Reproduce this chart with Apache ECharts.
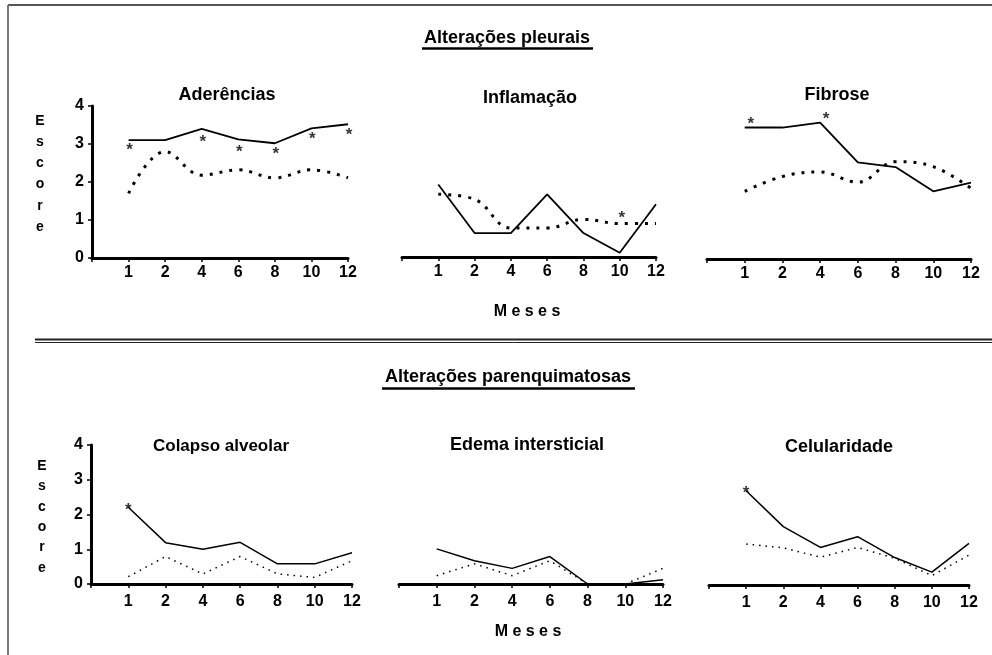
<!DOCTYPE html>
<html>
<head>
<meta charset="utf-8">
<script src="https://cdn.jsdelivr.net/npm/echarts@6.0.0/dist/echarts.min.js"></script>
<style>
  html, body { margin: 0; padding: 0; background: #fff; }
  #chart { width: 992px; height: 655px; }
</style>
</head>
<body>
<div id="chart"></div>
<script>
// meses (eixo x)
var months = ['1', '2', '4', '6', '8', '10', '12'];

// Alteracoes pleurais
var aderSolid = [3.10, 3.10, 3.40, 3.12, 3.02, 3.41, 3.52];
var aderDotted = [1.70, 2.80, 2.18, 2.32, 2.11, 2.32, 2.11];
var aderStars = [['1', 2.97], ['4', 3.18], ['6', 2.90], ['8', 2.87], ['10', 3.26], ['12', 3.37]];

var inflSolid = [1.91, 0.63, 0.63, 1.65, 0.63, 0.11, 1.39];
var inflDotted = [1.65, 1.52, 0.76, 0.76, 0.99, 0.88, 0.88];
var inflStars = [['10', 1.14]];

var fibrSolid = [3.46, 3.46, 3.59, 2.54, 2.42, 1.78, 2.01];
var fibrDotted = [1.78, 2.17, 2.29, 2.02, 2.56, 2.43, 1.86];
var fibrStars = [['1', 3.68], ['4', 3.81]];

// Alteracoes parenquimatosas
var colSolid = [2.21, 1.19, 1.00, 1.20, 0.58, 0.58, 0.90];
var colDotted = [0.21, 0.79, 0.29, 0.79, 0.29, 0.19, 0.67];
var colStars = [['1', 2.27]];

var edemaSolid = [1.01, 0.67, 0.45, 0.79, 0, 0, 0.12];
var edemaDotted = [0.24, 0.58, 0.24, 0.67, 0, 0, 0.45];

var celSolid = [2.71, 1.68, 1.08, 1.39, 0.79, 0.37, 1.20];
var celDotted = [1.18, 1.07, 0.80, 1.08, 0.77, 0.27, 0.86];
var celStars = [['1', 2.78]];

var FONT = '"Liberation Sans", Arial, Helvetica, sans-serif';

var panels = [
    {grid: {left: 92, top: 106, width: 256, height: 152}, yShow: true, solid: aderSolid, dotted: aderDotted, stars: aderStars, top: true, starOff: [1, 5]},
    {grid: {left: 402, top: 105, width: 254, height: 152}, yShow: false, solid: inflSolid, dotted: inflDotted, stars: inflStars, top: true, starOff: [2, 5]},
    {grid: {left: 707, top: 107, width: 264, height: 152}, yShow: false, solid: fibrSolid, dotted: fibrDotted, stars: fibrStars, top: true, starOff: [6, 5]},
    {grid: {left: 91, top: 445, width: 261, height: 139}, yShow: true, solid: colSolid, dotted: colDotted, stars: colStars, top: false, starOff: [0, 5]},
    {grid: {left: 399, top: 445, width: 264, height: 139}, yShow: false, solid: edemaSolid, dotted: edemaDotted, stars: [], top: false, starOff: [0, 5]},
    {grid: {left: 709, top: 446, width: 260, height: 139}, yShow: false, solid: celSolid, dotted: celDotted, stars: celStars, top: false, starOff: [0, 5]}
];

function pairs(vals) {
    return months.map(function (m, i) { return [m, vals[i]]; });
}

var grids = [], xAxes = [], yAxes = [], series = [];
panels.forEach(function (p, k) {
    grids.push(p.grid);
    xAxes.push({
        type: 'category',
        gridIndex: k,
        boundaryGap: false,
        data: [''].concat(months),
        axisLine: {lineStyle: {color: '#000', width: 3}},
        axisTick: {show: true, length: 4, lineStyle: {color: '#000', width: 1.5}},
        axisLabel: {color: '#000', fontSize: 16, fontWeight: 'bold', fontFamily: FONT, margin: p.top ? 7 : 10},
        splitLine: {show: false}
    });
    yAxes.push({
        type: 'value',
        gridIndex: k,
        show: p.yShow,
        min: 0, max: 4, interval: 1,
        axisLine: {show: true, lineStyle: {color: '#000', width: 3}},
        axisTick: {show: true, length: 4, lineStyle: {color: '#000', width: 1.5}},
        axisLabel: {color: '#000', fontSize: 16, fontWeight: 'bold', fontFamily: FONT, margin: 8},
        splitLine: {show: false}
    });
    series.push({
        type: 'line', xAxisIndex: k, yAxisIndex: k,
        data: pairs(p.solid),
        showSymbol: false, symbol: 'none',
        lineStyle: {color: '#000', width: p.top ? 1.8 : 1.5, type: 'solid'},
        silent: true
    });
    series.push({
        type: 'line', xAxisIndex: k, yAxisIndex: k,
        data: pairs(p.dotted),
        showSymbol: false, symbol: 'none',
        smooth: p.top ? 0.4 : false,
        lineStyle: p.top
            ? {color: '#000', width: 3, type: [3, 7], cap: 'butt'}
            : {color: '#000', width: 1.5, type: [1.5, 5], cap: 'butt'},
        silent: true
    });
    if (p.stars.length) {
        series.push({
            type: 'scatter', xAxisIndex: k, yAxisIndex: k,
            data: p.stars,
            symbol: 'circle', symbolSize: 1,
            itemStyle: {color: 'rgba(0,0,0,0)'},
            label: {show: true, position: 'inside', formatter: '*', color: '#000',
                fontSize: 17, fontWeight: 'bold', fontFamily: FONT, offset: p.starOff},
            silent: true
        });
    }
});

function txt(x, y, s, size, extra) {
    var st = {text: s, x: x, y: y, fill: '#000', font: 'bold ' + size + 'px ' + FONT,
        textAlign: 'center', textVerticalAlign: 'middle'};
    if (extra) for (var key in extra) st[key] = extra[key];
    return {type: 'text', style: st, silent: true};
}
function line(x1, y1, x2, y2, w, c) {
    return {type: 'line', shape: {x1: x1, y1: y1, x2: x2, y2: y2},
        style: {stroke: c || '#000', lineWidth: w}, silent: true};
}

var graphics = [
    // moldura
    line(8, 5, 992, 5, 2, '#555'),
    line(8, 5, 8, 655, 2, '#777'),
    // titulos de secao
    txt(507, 38, 'Alterações pleurais', 18),
    line(422, 48.5, 593, 48.5, 2.5),
    txt(508, 377, 'Alterações parenquimatosas', 18),
    line(382, 388.5, 635, 388.5, 2.5),
    // separador duplo
    line(35, 339.5, 992, 339.5, 2, '#222'),
    line(35, 342.5, 992, 342.5, 1, '#222'),
    // titulos dos graficos
    txt(227, 95, 'Aderências', 18),
    txt(530, 98, 'Inflamação', 18),
    txt(837, 95, 'Fibrose', 18),
    txt(221, 446, 'Colapso alveolar', 17),
    txt(527, 445, 'Edema intersticial', 18),
    txt(839, 447, 'Celularidade', 18),
    // eixos
    txt(40, 174, 'E\ns\nc\no\nr\ne', 14, {lineHeight: 21.2}),
    txt(42, 517, 'E\ns\nc\no\nr\ne', 14, {lineHeight: 20.3}),
    txt(527, 312, 'M e s e s', 16),
    txt(528, 632, 'M e s e s', 16)
];

var chart = echarts.init(document.getElementById('chart'), null, {renderer: 'canvas'});
chart.setOption({
    animation: false,
    backgroundColor: '#fff',
    grid: grids,
    xAxis: xAxes,
    yAxis: yAxes,
    series: series,
    graphic: graphics
});
</script>
</body>
</html>
